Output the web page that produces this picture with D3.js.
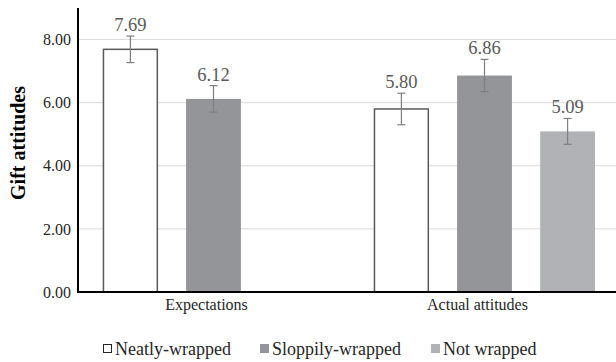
<!DOCTYPE html>
<html>
<head>
<meta charset="utf-8">
<script src="https://cdn.jsdelivr.net/npm/d3@7"></script>
<style>
	body { margin: 0; background: #fff; }
</style>
</head>
<body>
<svg width="616" height="362"></svg>
<script>
// categories and series
const categories = ['Expectations', 'Actual attitudes']
const seriesNames = ['Neatly-wrapped', 'Sloppily-wrapped', 'Not wrapped']
// means per category, in series order (null = not measured)
const expectations = [7.69, 6.12, null]
const actual = [5.80, 6.86, 5.09]
// error bar half-widths
const expectationsErr = [0.42, 0.42, null]
const actualErr = [0.50, 0.51, 0.41]
const yTicks = [0, 2, 4, 6, 8]

const fills = ['#ffffff', '#939598', '#b1b2b5']
const strokes = ['#595959', 'none', 'none']
const FONT = "'Liberation Serif', 'DejaVu Serif', serif"

const margin = { top: 8, left: 78, right: 0, bottom: 70 }
const width = 616, height = 362
const svg = d3.select('svg').style('font-family', FONT)

const rows = [expectations, actual]
const errs = [expectationsErr, actualErr]

const x0 = d3.scaleBand().domain(categories)
	.range([margin.left, width - margin.right + 4])
	.paddingInner(0.08).paddingOuter(0.04)
const x1 = d3.scaleBand().domain(d3.range(seriesNames.length))
	.range([0, x0.bandwidth()])
	.paddingInner(0.34).paddingOuter(0.17)
const y = d3.scaleLinear().domain([0, 9]).range([height - margin.bottom, margin.top])

// gridlines
svg.append('g')
	.selectAll('line')
	.data(yTicks.filter(d => d > 0))
	.join('line')
	.attr('x1', margin.left).attr('x2', width)
	.attr('y1', d => y(d)).attr('y2', d => y(d))
	.attr('stroke', '#d9d9d9').attr('stroke-width', 1)

// y axis
const yAxis = svg.append('g')
	.attr('transform', `translate(${margin.left},0)`)
	.call(d3.axisLeft(y).tickValues(yTicks).tickFormat(d3.format('.2f')).tickSize(0).tickPadding(7))
yAxis.attr('font-family', null)
yAxis.select('.domain').attr('stroke', '#000').attr('stroke-width', 2)
	.attr('d', `M0,${y(0)}V${margin.top}`)
yAxis.selectAll('text').attr('font-size', 16).attr('fill', '#262626')
	.style('font-family', FONT)

// bars
const data = []
rows.forEach((r, ci) => r.forEach((v, si) => {
	if (v !== null) data.push({ cat: categories[ci], s: si, v: v, e: errs[ci][si] })
}))

const bars = svg.append('g')
bars.selectAll('rect')
	.data(data)
	.join('rect')
	.attr('x', d => x0(d.cat) + x1(d.s) + (strokes[d.s] !== 'none' ? 0.5 : 0))
	.attr('y', d => y(d.v))
	.attr('width', d => x1.bandwidth() - (strokes[d.s] !== 'none' ? 1 : 0))
	.attr('height', d => y(0) - y(d.v))
	.attr('fill', d => fills[d.s])
	.attr('stroke', d => strokes[d.s])
	.attr('stroke-width', 1.5)

// error bars
const eb = svg.append('g').attr('stroke', '#7f7f7f').attr('stroke-width', 1.2)
data.forEach(d => {
	const cx = x0(d.cat) + x1(d.s) + x1.bandwidth() / 2
	eb.append('line').attr('x1', cx).attr('x2', cx).attr('y1', y(d.v + d.e)).attr('y2', y(d.v - d.e))
	eb.append('line').attr('x1', cx - 4).attr('x2', cx + 4).attr('y1', y(d.v + d.e)).attr('y2', y(d.v + d.e))
	eb.append('line').attr('x1', cx - 4).attr('x2', cx + 4).attr('y1', y(d.v - d.e)).attr('y2', y(d.v - d.e))
})

// value labels
svg.append('g')
	.selectAll('text')
	.data(data)
	.join('text')
	.attr('x', d => x0(d.cat) + x1(d.s) + x1.bandwidth() / 2)
	.attr('y', d => y(d.v + d.e) - 5)
	.attr('text-anchor', 'middle')
	.attr('font-size', 18.5)
	.attr('fill', '#595959')
	.style('font-family', FONT)
	.text(d => d.v.toFixed(2))

// x axis
svg.append('line')
	.attr('x1', margin.left - 1).attr('x2', width)
	.attr('y1', y(0)).attr('y2', y(0))
	.attr('stroke', '#000').attr('stroke-width', 2)
svg.append('g')
	.selectAll('text')
	.data(categories)
	.join('text')
	.attr('x', d => x0(d) + x0.bandwidth() / 2 - 7)
	.attr('y', y(0) + 18)
	.attr('text-anchor', 'middle')
	.attr('font-size', 16)
	.attr('fill', '#262626')
	.style('font-family', FONT)
	.text(d => d)

// y title
svg.append('text')
	.attr('transform', `translate(25,${(y(0) + margin.top) / 2 - 7}) rotate(-90)`)
	.attr('text-anchor', 'middle')
	.attr('font-size', 20)
	.attr('font-weight', 'bold')
	.attr('fill', '#000')
	.style('font-family', FONT)
	.text('Gift attitudes')

// legend
const legendX = [103, 260, 431]
const lg = svg.append('g')
seriesNames.forEach((name, i) => {
	const g = lg.append('g').attr('transform', `translate(${legendX[i]},344)`)
	g.append('rect').attr('x', 0.5).attr('y', 0.5).attr('width', 8).attr('height', 8)
		.attr('fill', fills[i])
		.attr('stroke', strokes[i] === 'none' ? fills[i] : '#262626')
		.attr('stroke-width', 1)
	g.append('text').attr('x', 12).attr('y', 11)
		.attr('font-size', 18).attr('fill', '#262626')
		.style('font-family', FONT)
		.text(name)
})
</script>
</body>
</html>
